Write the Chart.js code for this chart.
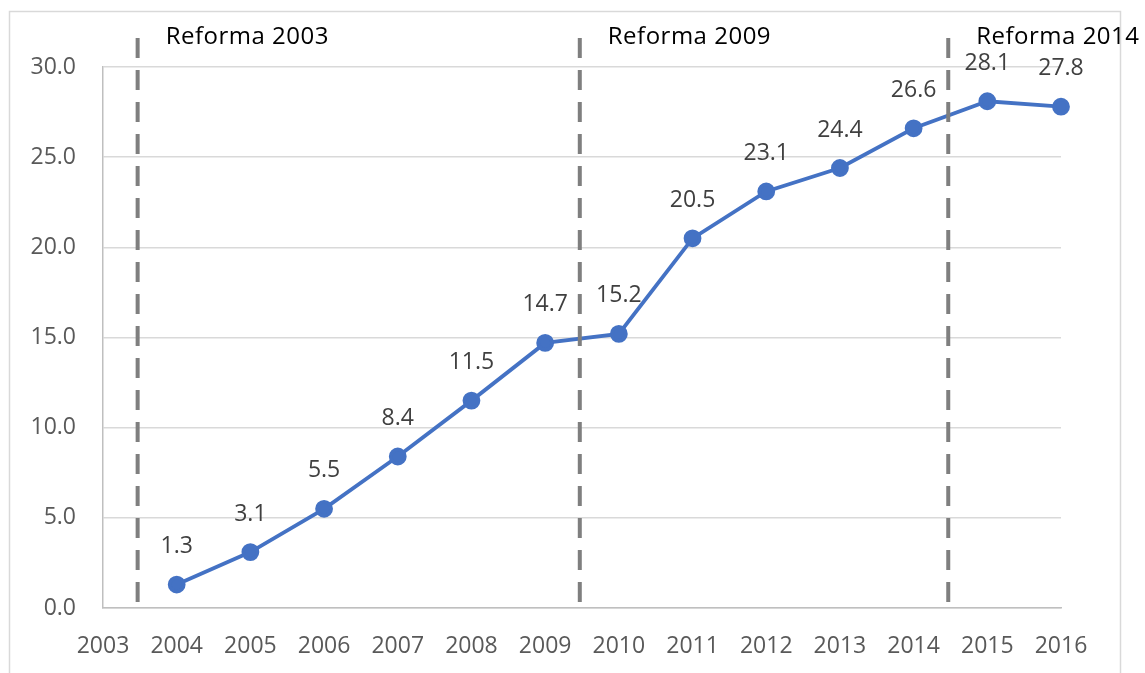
<!DOCTYPE html>
<html>
<head>
<meta charset="utf-8">
<script src="https://cdn.jsdelivr.net/npm/chart.js@4"></script>
<style>
  body { margin: 0; background: #fff; }
  #wrap { width: 1145px; height: 673px; }
</style>
</head>
<body>
<div id="wrap"><canvas id="myChart"></canvas></div>
<script>
const years = [2004, 2005, 2006, 2007, 2008, 2009, 2010, 2011, 2012, 2013, 2014, 2015, 2016];
const values = [1.3, 3.1, 5.5, 8.4, 11.5, 14.7, 15.2, 20.5, 23.1, 24.4, 26.6, 28.1, 27.8];
const reformYears = [2003, 2009, 2014];
const reformLabels = ['Reforma 2003', 'Reforma 2009', 'Reforma 2014'];

const FONT = '"Open Sans", "Noto Sans", sans-serif';

// frame, reform lines + labels, data labels
const extras = {
  id: 'extras',
  beforeDraw(chart) {
    const c = chart.ctx;
    c.save();
    c.fillStyle = '#fff';
    c.fillRect(0, 0, chart.width, chart.height);
    c.strokeStyle = '#d9d9d9';
    c.lineWidth = 1.5;
    c.strokeRect(9.5, 11.5, 1111, 700);
    c.restore();
  },
  afterDatasetsDraw(chart) {
    const c = chart.ctx;
    const xs = chart.scales.x;
    const area = chart.chartArea;
    c.save();
    reformYears.forEach((yr, i) => {
      const px = xs.getPixelForValue(yr + 0.47);
      c.strokeStyle = '#7f7f7f';
      c.lineWidth = 4;
      c.setLineDash([20, 12]);
      c.beginPath();
      c.moveTo(px, 38);
      c.lineTo(px, area.bottom);
      c.stroke();
      c.setLineDash([]);
      c.fillStyle = '#000';
      c.font = '24px ' + FONT;
      c.letterSpacing = '0.5px';
      c.textAlign = 'left';
      c.textBaseline = 'middle';
      c.fillText(reformLabels[i], px + 28, 37);
    });
    c.letterSpacing = '0px';
    const meta = chart.getDatasetMeta(0);
    c.fillStyle = '#404040';
    c.font = '23px ' + FONT;
    c.textAlign = 'center';
    c.textBaseline = 'middle';
    meta.data.forEach((pt, i) => {
      c.fillText(values[i].toFixed(1), pt.x, pt.y - 38);
    });
    c.restore();
  }
};

const ctx = document.getElementById('myChart');

const data = {
  datasets: [
    {
      label: 'Serie',
      data: years.map((y, i) => ({ x: y, y: values[i] })),
      borderColor: '#4472C4',
      backgroundColor: '#4472C4',
      borderWidth: 3.8,
      pointRadius: 7,
      pointHoverRadius: 7,
      tension: 0,
      clip: false
    }
  ]
};

const config = {
  type: 'line',
  data: data,
  options: {
    responsive: true,
    maintainAspectRatio: false,
    animation: false,
    layout: { padding: { top: 67, right: 84, left: 0, bottom: 0 } },
    plugins: {
      legend: { display: false },
      tooltip: { enabled: false }
    },
    scales: {
      x: {
        type: 'linear',
        min: 2003,
        max: 2016,
        afterFit: (s) => { s.height = 65; },
        grid: { display: false, drawTicks: false },
        border: { display: true, color: '#bfbfbf', width: 1.5 },
        ticks: {
          stepSize: 1,
          padding: 25,
          color: '#595959',
          font: { family: FONT, size: 23 },
          callback: (v) => String(v),
          maxRotation: 0,
          autoSkip: false
        }
      },
      y: {
        min: 0,
        max: 30,
        afterFit: (s) => { s.width = 103; },
        grid: { color: '#d9d9d9', lineWidth: 1.5, drawTicks: false },
        border: { display: true, color: '#bfbfbf', width: 1.5 },
        ticks: {
          stepSize: 5,
          padding: 27,
          color: '#595959',
          font: { family: FONT, size: 23 },
          callback: (v) => v.toFixed(1)
        }
      }
    }
  },
  plugins: [extras]
};

const myChart = new Chart(ctx, config);
</script>
</body>
</html>
